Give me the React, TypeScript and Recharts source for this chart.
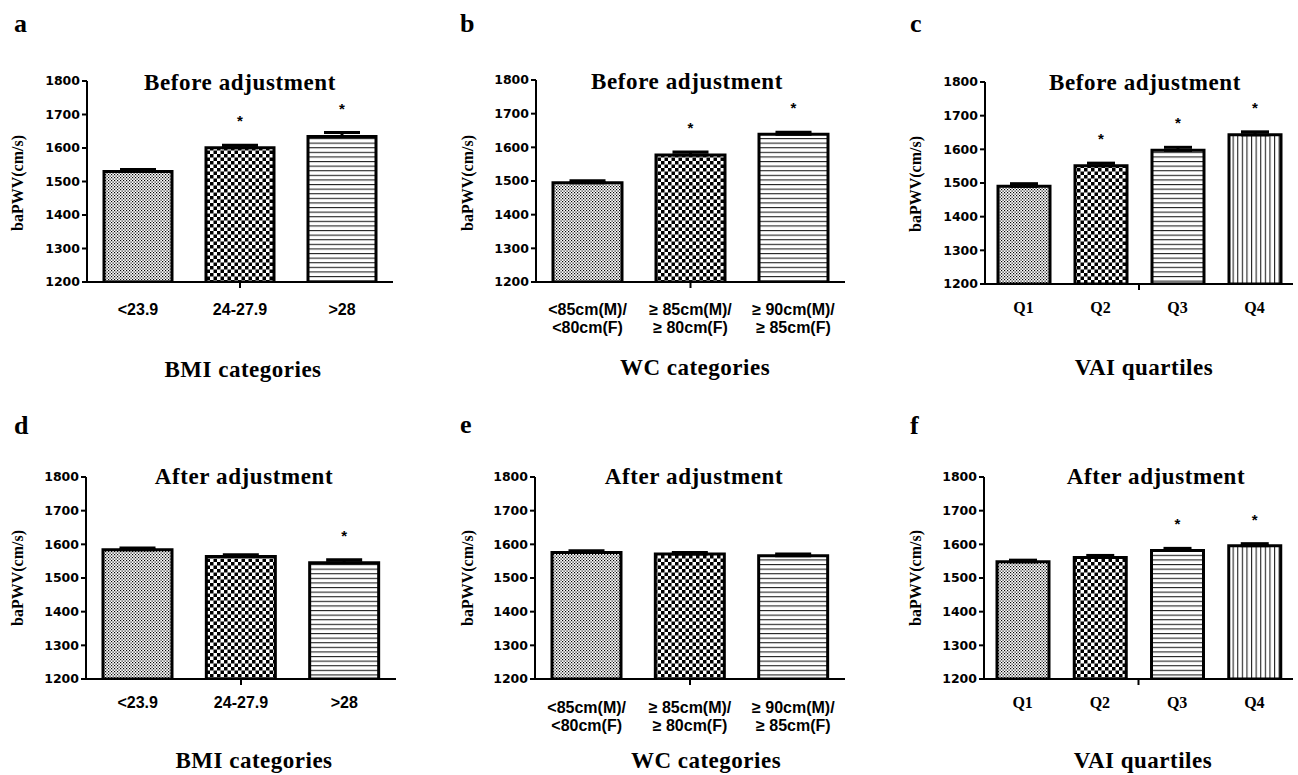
import React from 'react';
import { BarChart, Bar, XAxis, YAxis, ErrorBar, Cell, LabelList } from 'recharts';

const bmiCategories = ['<23.9', '24-27.9', '>28'];
const wcCategories = ['<85cm(M)/\n<80cm(F)', '≥ 85cm(M)/\n≥ 80cm(F)', '≥ 90cm(M)/\n≥ 85cm(F)'];
const vaiCategories = ['Q1', 'Q2', 'Q3', 'Q4'];

const yTicks = [1200, 1300, 1400, 1500, 1600, 1700, 1800];
const Y_MIN = 1200;
const Y_MAX = 1800;

// before adjustment
const bmiBefore = [1530, 1601, 1634];
const bmiBeforeErr = [6, 7, 12];
const bmiBeforeSig = [false, true, true];

const wcBefore = [1495, 1577, 1639];
const wcBeforeErr = [6, 9, 6];
const wcBeforeSig = [false, true, true];

const vaiBefore = [1490, 1551, 1597, 1643];
const vaiBeforeErr = [8, 8, 9, 9];
const vaiBeforeSig = [false, true, true, true];

// after adjustment
const bmiAfter = [1584, 1564, 1545];
const bmiAfterErr = [5, 5, 9];
const bmiAfterSig = [false, false, true];

const wcAfter = [1576, 1571, 1566];
const wcAfterErr = [5, 5, 5];
const wcAfterSig = [false, false, false];

const vaiAfter = [1548, 1561, 1582, 1596];
const vaiAfterErr = [5, 6, 6, 6];
const vaiAfterSig = [false, false, true, true];

const SERIF = '"Liberation Serif", "Times New Roman", serif';
const SANS = '"Liberation Sans", Arial, sans-serif';
const YTICK_FONT = '"DejaVu Sans", sans-serif';

const FILLS = ['url(#pFine)', 'url(#pCheck)', 'url(#pHoriz)', 'url(#pVert)'];

type Panel = {
  letter: string;
  title: string;
  xTitle: string;
  categories: string[];
  values: number[];
  errs: number[];
  sig: boolean[];
  box: { x: number; y: number; w: number; h: number };
  plot: { l: number; r: number; t: number; b: number };
  barSize: number;
  cap: number;
  tickDy: number;
  tickSerif?: boolean;
  letterPos: [number, number];
  titlePos: [number, number];
  xTitlePos: [number, number];
  yTitlePos: [number, number];
};

const panels: Panel[] = [
  {
    letter: 'a', title: 'Before adjustment', xTitle: 'BMI categories',
    categories: bmiCategories, values: bmiBefore, errs: bmiBeforeErr, sig: bmiBeforeSig,
    box: { x: 0, y: 0, w: 430, h: 380 }, plot: { l: 87, r: 393, t: 81, b: 282 },
    barSize: 68, cap: 18, tickDy: 33,
    letterPos: [14, 32], titlePos: [240, 90], xTitlePos: [243, 377], yTitlePos: [23, 183],
  },
  {
    letter: 'b', title: 'Before adjustment', xTitle: 'WC categories',
    categories: wcCategories, values: wcBefore, errs: wcBeforeErr, sig: wcBeforeSig,
    box: { x: 430, y: 0, w: 430, h: 380 }, plot: { l: 536, r: 845, t: 80, b: 282 },
    barSize: 69, cap: 18, tickDy: 33,
    letterPos: [460, 32], titlePos: [687, 89], xTitlePos: [695, 375], yTitlePos: [473, 183],
  },
  {
    letter: 'c', title: 'Before adjustment', xTitle: 'VAI quartiles',
    categories: vaiCategories, values: vaiBefore, errs: vaiBeforeErr, sig: vaiBeforeSig,
    box: { x: 860, y: 0, w: 438, h: 380 }, plot: { l: 985, r: 1293, t: 82, b: 284 },
    barSize: 52, cap: 14, tickDy: 29, tickSerif: true,
    letterPos: [910, 32], titlePos: [1145, 90], xTitlePos: [1144, 375], yTitlePos: [921, 184],
  },
  {
    letter: 'd', title: 'After adjustment', xTitle: 'BMI categories',
    categories: bmiCategories, values: bmiAfter, errs: bmiAfterErr, sig: bmiAfterSig,
    box: { x: 0, y: 380, w: 430, h: 395 }, plot: { l: 86, r: 396, t: 477, b: 679 },
    barSize: 69, cap: 18, tickDy: 29,
    letterPos: [14, 434], titlePos: [244, 484], xTitlePos: [254, 768], yTitlePos: [23, 578],
  },
  {
    letter: 'e', title: 'After adjustment', xTitle: 'WC categories',
    categories: wcCategories, values: wcAfter, errs: wcAfterErr, sig: wcAfterSig,
    box: { x: 430, y: 380, w: 430, h: 395 }, plot: { l: 535, r: 845, t: 477, b: 679 },
    barSize: 69, cap: 18, tickDy: 34,
    letterPos: [460, 433], titlePos: [694, 484], xTitlePos: [706, 768], yTitlePos: [473, 578],
  },
  {
    letter: 'f', title: 'After adjustment', xTitle: 'VAI quartiles',
    categories: vaiCategories, values: vaiAfter, errs: vaiAfterErr, sig: vaiAfterSig,
    box: { x: 860, y: 380, w: 438, h: 395 }, plot: { l: 984, r: 1293, t: 477, b: 679 },
    barSize: 52, cap: 14, tickDy: 29, tickSerif: true,
    letterPos: [910, 434], titlePos: [1156, 484], xTitlePos: [1143, 768], yTitlePos: [921, 578],
  },
];

const Y_AXIS_W = 50;
const X_AXIS_H = 60;

function makeXTick(p: Panel) {
  const n = p.categories.length;
  const band = (p.plot.r - p.plot.l) / n;
  const midIdx = n % 2 === 1 ? (n - 1) / 2 : n / 2 - 1;
  return (props: any) => {
    const { x, y, payload } = props;
    const idx = payload?.index ?? props.index;
    const lines = String(payload.value).split('\n');
    const midX = n % 2 === 1 ? x : x + band / 2;
    return (
      <g>
        {idx === midIdx && (
          <line x1={midX} x2={midX} y1={y} y2={y + 6} stroke="#000" strokeWidth={2} />
        )}
        <text
          textAnchor="middle"
          fontFamily={p.tickSerif ? SERIF : SANS}
          fontSize={p.tickSerif ? 16 : 16}
          fontWeight="bold"
          fill="#000"
        >
          {lines.map((ln, i) => (
            <tspan key={i} x={x} y={y + p.tickDy + i * 18}>
              {ln}
            </tspan>
          ))}
        </text>
      </g>
    );
  };
}

function makeStar(p: Panel, data: any[]) {
  const pxPer = (p.plot.b - p.plot.t) / (Y_MAX - Y_MIN);
  return (props: any) => {
    const vb = props.viewBox || {};
    const x = props.x ?? vb.x;
    const y = props.y ?? vb.y;
    const width = props.width ?? vb.width;
    const row = data[props.index];
    if (!row || !row.star) return null;
    const errTop = y - row.range[1] * pxPer;
    return (
      <text
        x={x + width / 2}
        y={errTop - 19}
        textAnchor="middle"
        fontFamily={SANS}
        fontSize={15}
        fontWeight="bold"
        fill="#000"
      >
        *
      </text>
    );
  };
}

function PanelChart({ p }: { p: Panel }) {
  const data = p.categories.map((c, i) => ({
    name: c,
    value: p.values[i],
    range: [0, p.errs[i]],
    star: p.sig[i] ? '*' : '',
  }));
  const margin = {
    left: p.plot.l - p.box.x - Y_AXIS_W,
    top: p.plot.t - p.box.y,
    right: p.box.x + p.box.w - p.plot.r,
    bottom: p.box.y + p.box.h - p.plot.b - X_AXIS_H,
  };
  return (
    <div style={{ position: 'absolute', left: p.box.x, top: p.box.y, width: p.box.w, height: p.box.h }}>
      <BarChart width={p.box.w} height={p.box.h} data={data} margin={margin}>
        <XAxis
          dataKey="name"
          height={X_AXIS_H}
          interval={0}
          tickLine={false}
          tickSize={0}
          tickMargin={0}
          axisLine={{ stroke: '#000', strokeWidth: 2 }}
          tick={makeXTick(p)}
        />
        <YAxis
          width={Y_AXIS_W}
          domain={[Y_MIN, Y_MAX]}
          ticks={yTicks}
          allowDataOverflow
          tickSize={5}
          tickMargin={2}
          axisLine={{ stroke: '#000', strokeWidth: 2 }}
          tickLine={{ stroke: '#000', strokeWidth: 2 }}
          tick={{ fontFamily: YTICK_FONT, fontSize: 12.5, fontWeight: 'bold', fill: '#000' }}
        />
        <Bar dataKey="value" barSize={p.barSize} stroke="#000" strokeWidth={3} isAnimationActive={false}>
          {data.map((_, i) => (
            <Cell key={i} fill={FILLS[i]} />
          ))}
          <ErrorBar dataKey="range" direction="y" width={p.cap} stroke="#000" strokeWidth={3} isAnimationActive={false} />
          <LabelList dataKey="star" content={makeStar(p, data)} />
        </Bar>
      </BarChart>
    </div>
  );
}

export default function App() {
  return (
    <div style={{ position: 'absolute', left: 0, top: 0, width: 1298, height: 775, background: '#fff', overflow: 'hidden' }}>
      <svg width={0} height={0} style={{ position: 'absolute' }}>
        <defs>
          <pattern id="pFine" patternUnits="userSpaceOnUse" width={3} height={3}>
            <rect width={3} height={3} fill="#fff" />
            <rect x={0} y={0} width={1.2} height={1.2} fill="#000" />
            <rect x={1.5} y={1.5} width={1.2} height={1.2} fill="#000" />
          </pattern>
          <pattern id="pCheck" patternUnits="userSpaceOnUse" width={7} height={7}>
            <rect width={7} height={7} fill="#fff" />
            <rect x={0} y={0} width={3.5} height={3.5} fill="#000" />
            <rect x={3.5} y={3.5} width={3.5} height={3.5} fill="#000" />
          </pattern>
          <pattern id="pHoriz" patternUnits="userSpaceOnUse" width={10} height={4.6}>
            <rect width={10} height={4.6} fill="#fff" />
            <rect x={0} y={0} width={10} height={1.1} fill="#222" />
          </pattern>
          <pattern id="pVert" patternUnits="userSpaceOnUse" width={4.6} height={10}>
            <rect width={4.6} height={10} fill="#fff" />
            <rect x={0} y={0} width={1.1} height={10} fill="#222" />
          </pattern>
        </defs>
      </svg>
      {panels.map((p) => (
        <PanelChart key={p.letter} p={p} />
      ))}
      <svg width={1298} height={775} style={{ position: 'absolute', left: 0, top: 0, pointerEvents: 'none' }}>
        {panels.map((p) => (
          <g key={p.letter} fontFamily={SERIF} fontWeight="bold" fill="#000">
            <text x={p.letterPos[0]} y={p.letterPos[1]} fontSize={26}>
              {p.letter}
            </text>
            <text x={p.titlePos[0]} y={p.titlePos[1]} fontSize={23} letterSpacing={0.6} textAnchor="middle">
              {p.title}
            </text>
            <text x={p.xTitlePos[0]} y={p.xTitlePos[1]} fontSize={23} letterSpacing={0.5} textAnchor="middle">
              {p.xTitle}
            </text>
            <text
              transform={`translate(${p.yTitlePos[0]},${p.yTitlePos[1]}) rotate(-90)`}
              fontSize={16}
              textAnchor="middle"
            >
              baPWV(cm/s)
            </text>
          </g>
        ))}
      </svg>
    </div>
  );
}
